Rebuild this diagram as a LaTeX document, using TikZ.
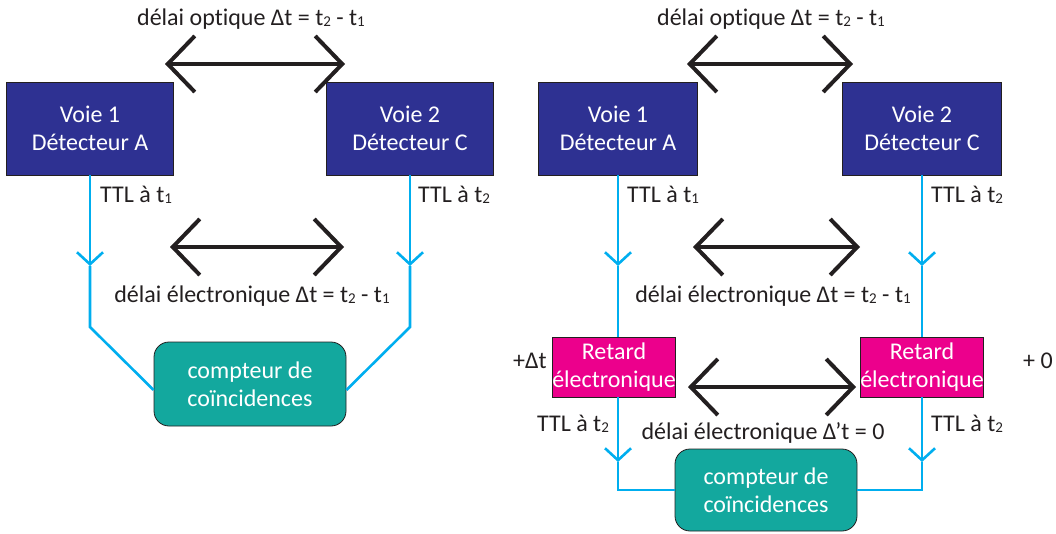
\documentclass[tikz,border=0pt]{standalone}
\usepackage{fontspec}
\setmainfont[Ligatures=NoCommon]{Carlito}
\usetikzlibrary{arrows.meta,calc}
\definecolor{boxblue}{HTML}{2E3192}
\definecolor{tealbox}{HTML}{13A89E}
\definecolor{magbox}{HTML}{EC008C}
\definecolor{wireblue}{HTML}{00AEEF}
\definecolor{ink}{HTML}{231F20}
\newcommand{\ix}[1]{\raisebox{-0.03em}{\fontsize{15}{15}\selectfont #1}}
\begin{document}
\begin{tikzpicture}[x=1pt,y=-1pt,
  every node/.style={font=\fontsize{24}{28}\selectfont, text=ink, inner sep=0pt},
  det/.style={draw=ink, line width=0.8pt, fill=boxblue, text=white, minimum width=#1, minimum height=93pt, align=center},
  retard/.style={draw=ink, line width=0.8pt, fill=magbox, text=white, minimum width=122pt, minimum height=60pt, align=center},
  counter/.style={draw=ink, line width=0.8pt, fill=tealbox, text=white, rounded corners=15pt, minimum width=#1, align=center},
  wire/.style={wireblue, line width=2.6pt},
  wiretip/.style={wire, -{Straight Barb[length=12pt,width=26pt]}},
  dbl/.style={ink, line width=4pt, {Straight Barb[length=27pt,width=56pt]}-{Straight Barb[length=27pt,width=56pt]}},
  lbl/.style={anchor=west}
]
\useasboundingbox (0,0) rectangle (1056,533);

% ---------------- left panel ----------------
\node (optL) at (251,19) {délai optique Δt = t\ix{2} - t\ix{1}};
\node[det=167pt] (voie1L) at (90,128.5) {Voie 1\\Détecteur A};
\node[det=167pt] (voie2L) at (410,128.5) {Voie 2\\Détecteur C};
\node[counter=192pt, minimum height=84pt] (compL) at (250,384) {compteur de\\coïncidences};
\node[lbl] (ttl1L) at (100,195) {TTL à t\ix{1}};
\node[lbl] (ttl2L) at (418,195) {TTL à t\ix{2}};
\node (elecL) at (252,296) {délai électronique Δt = t\ix{2} - t\ix{1}};

\coordinate (oA) at (165,64);  \coordinate (oB) at (345,64);
\coordinate (eA) at (170,247); \coordinate (eB) at (344,247);
\draw[dbl] (oA) -- (oB);
\draw[dbl] (eA) -- (eB);

\coordinate (tipL1) at (90,266);  \coordinate (bendL1) at (90,327);
\coordinate (tipL2) at (410,266); \coordinate (bendL2) at (410,327);
\draw[wiretip] (voie1L.south) -- (tipL1);
\draw[wire] (tipL1) -- (bendL1) -- ($(compL.west)+(0,6)$);
\draw[wiretip] (voie2L.south) -- (tipL2);
\draw[wire] (tipL2) -- (bendL2) -- ($(compL.east)+(0,6)$);

% ---------------- right panel ----------------
\node (optR) at (771,19) {délai optique Δt = t\ix{2} - t\ix{1}};
\node[det=159pt] (voie1R) at (618,128.5) {Voie 1\\Détecteur A};
\node[det=159pt] (voie2R) at (922,128.5) {Voie 2\\Détecteur C};
\node[lbl] (ttl1R) at (627,195) {TTL à t\ix{1}};
\node[lbl] (ttl2R) at (931,195) {TTL à t\ix{2}};
\node (elecR) at (773,296) {délai électronique Δt = t\ix{2} - t\ix{1}};
\node[retard] (retL) at (614,367) {Retard\\électronique};
\node[retard] (retR) at (922,367) {Retard\\électronique};
\node (plusDt) at (530,361) {+Δt};
\node (plusZ) at (1038,361) {+ 0};
\node (ttl3R) at (573,424) {TTL à t\ix{2}};
\node[lbl] (ttl4R) at (931,424) {TTL à t\ix{2}};
\node (elec2R) at (763,433) {délai électronique Δ’t = 0};
\node[counter=182pt, minimum height=82pt] (compR) at (766,490) {compteur de\\coïncidences};

\coordinate (roA) at (687,64);  \coordinate (roB) at (853,64);
\coordinate (reA) at (693,247); \coordinate (reB) at (860,247);
\coordinate (rfA) at (688,387); \coordinate (rfB) at (856,387);
\draw[dbl] (roA) -- (roB);
\draw[dbl] (reA) -- (reB);
\draw[dbl] (rfA) -- (rfB);

\coordinate (tipR1) at (618,266); \coordinate (tipR2) at (922,266);
\coordinate (tipR3) at (618,462); \coordinate (tipR4) at (922,462);
\coordinate (bendR1) at (618,490); \coordinate (bendR2) at (922,490);
\draw[wiretip] (voie1R.south) -- (tipR1);
\draw[wire] (tipR1) -- (retL.north -| tipR1);
\draw[wiretip] (voie2R.south) -- (tipR2);
\draw[wire] (tipR2) -- (retR.north -| tipR2);
\draw[wiretip] (retL.south -| tipR3) -- (tipR3);
\draw[wire] (tipR3) -- (bendR1) -- (compR.west);
\draw[wiretip] (retR.south -| tipR4) -- (tipR4);
\draw[wire] (tipR4) -- (bendR2) -- (compR.east);
\end{tikzpicture}
\end{document}
